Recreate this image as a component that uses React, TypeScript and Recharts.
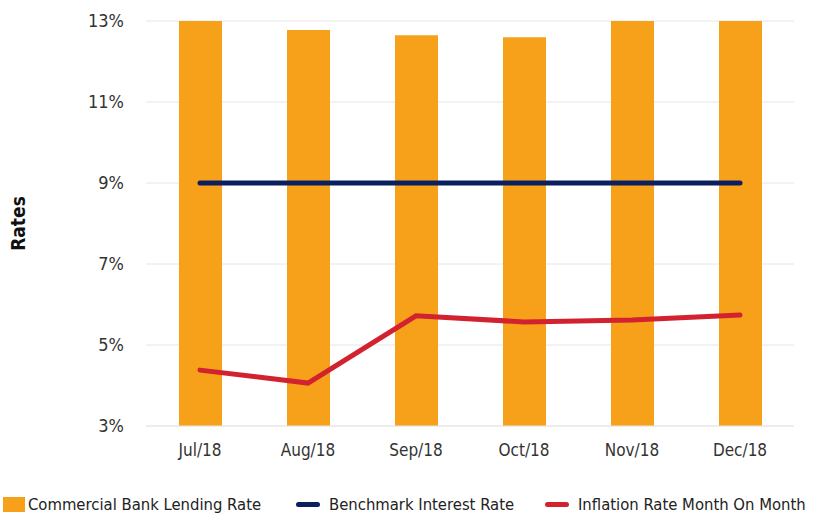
import { ComposedChart, Bar, Line, XAxis, YAxis, CartesianGrid } from 'recharts';

const months = ['Jul/18', 'Aug/18', 'Sep/18', 'Oct/18', 'Nov/18', 'Dec/18'];
const lendingRate = [13.1, 12.78, 12.65, 12.6, 13.0, 13.0];
const benchmarkRate = [9, 9, 9, 9, 9, 9];
const inflationRate = [4.38, 4.06, 5.72, 5.57, 5.62, 5.74];
const yTicks = [3, 5, 7, 9, 11, 13];

const FONT = "'Liberation Sans Narrow', 'DejaVu Sans Condensed', 'Arial Narrow', sans-serif";

const data = months.map((m, i) => ({
    month: m,
    lending: lendingRate[i],
    benchmark: benchmarkRate[i],
    inflation: inflationRate[i],
}));

const legendItems = [
    { label: 'Commercial Bank Lending Rate', color: '#F7A11B', type: 'square', left: 3 },
    { label: 'Benchmark Interest Rate', color: '#0B1F5E', type: 'line', left: 296 },
    { label: 'Inflation Rate Month On Month', color: '#D3222F', type: 'line', left: 545 },
];

export default function App() {
    return (
        <div style={{ position: 'absolute', left: 0, top: 0, width: 817, height: 516, background: '#fff' }}>
            <ComposedChart
                width={817}
                height={516}
                data={data}
                margin={{ top: 21, right: 23, bottom: 60, left: 0 }}
            >
                <CartesianGrid stroke="#E6E6E6" vertical={false} />
                <XAxis
                    dataKey="month"
                    tickLine={false}
                    axisLine={{ stroke: '#E6E6E6' }}
                    tick={{ fontFamily: FONT, fontSize: 17, fill: '#333' }}
                    dy={10}
                />
                <YAxis
                    domain={[3, 13]}
                    ticks={yTicks}
                    allowDataOverflow
                    width={146}
                    tickLine={false}
                    axisLine={false}
                    tickFormatter={(v) => `${v}%`}
                    tick={{ fontFamily: FONT, fontSize: 18, fill: '#333' }}
                    dx={-14}
                    label={{
                        value: 'Rates',
                        angle: -90,
                        position: 'insideLeft',
                        offset: 18,
                        style: { fontFamily: FONT, fontSize: 19, fontWeight: 'bold', fill: '#111', textAnchor: 'middle' },
                    }}
                />
                <Bar dataKey="lending" name="Commercial Bank Lending Rate" fill="#F7A11B" barSize={43} isAnimationActive={false} />
                <Line dataKey="benchmark" name="Benchmark Interest Rate" stroke="#0B1F5E" strokeWidth={5} strokeLinecap="round" dot={false} isAnimationActive={false} />
                <Line dataKey="inflation" name="Inflation Rate Month On Month" stroke="#D3222F" strokeWidth={5} strokeLinecap="round" type="linear" dot={false} isAnimationActive={false} />
            </ComposedChart>
            <div style={{ position: 'absolute', left: 0, top: 494, width: 817, height: 22, fontFamily: FONT, fontSize: 16.5, color: '#222' }}>
                {legendItems.map((item) => (
                    <div key={item.label} style={{ position: 'absolute', left: item.left, top: 0, display: 'flex', alignItems: 'center', height: 20 }}>
                        {item.type === 'square' ? (
                            <span style={{ display: 'inline-block', width: 22, height: 15, background: item.color, marginRight: 3 }} />
                        ) : (
                            <span style={{ display: 'inline-block', width: 24, height: 5, borderRadius: 3, background: item.color, marginRight: 9 }} />
                        )}
                        <span>{item.label}</span>
                    </div>
                ))}
            </div>
        </div>
    );
}
